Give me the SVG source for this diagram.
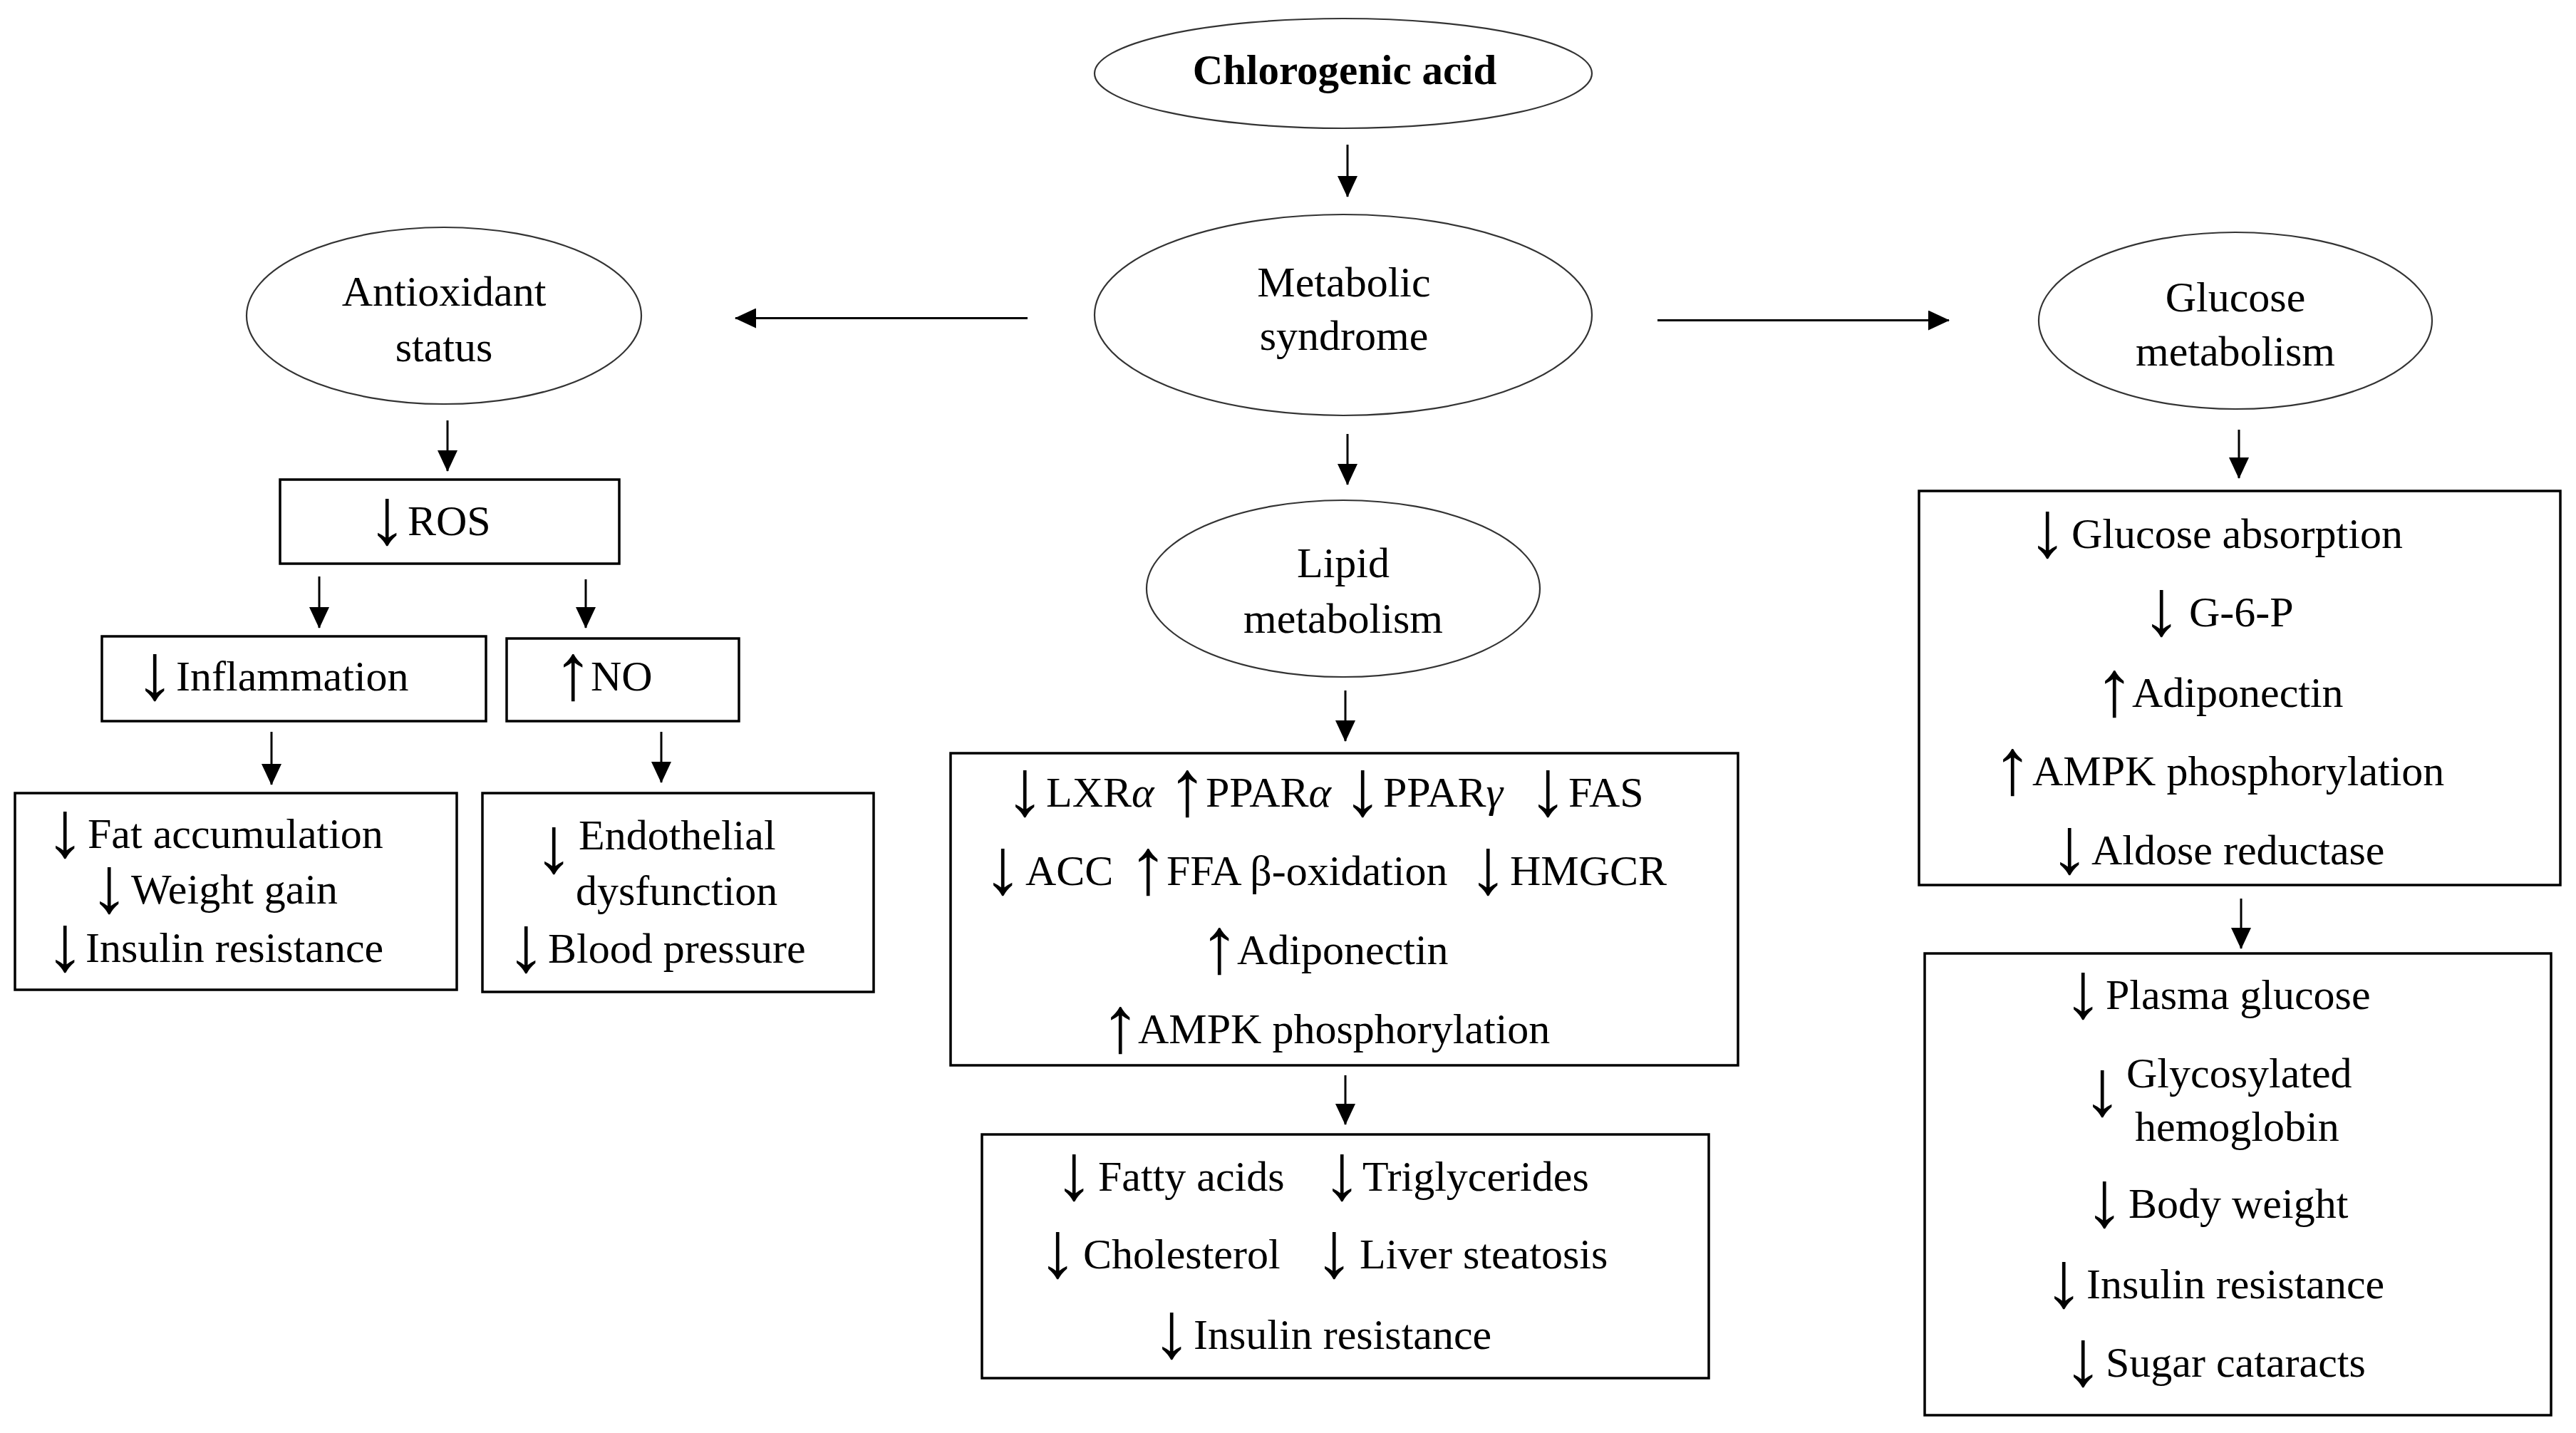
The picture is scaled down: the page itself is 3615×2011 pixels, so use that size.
<svg xmlns="http://www.w3.org/2000/svg" width="3615" height="2011" viewBox="0 0 3615 2011">
<style>
text{font-family:"Liberation Serif","Times New Roman",serif;font-size:60px;fill:#000}
.c{text-anchor:middle}
.b{font-weight:bold;font-size:59px}
.ar{text-anchor:middle;font-size:112px}
.g{font-style:italic}
.el{fill:#fff;stroke:#333;stroke-width:2.2}
.bx{fill:#fff;stroke:#000;stroke-width:3.5}
.cn{stroke:#000;stroke-width:3;fill:none;marker-end:url(#ah)}
</style>
<defs>
<marker id="ah" markerUnits="userSpaceOnUse" markerWidth="30" markerHeight="28" refX="29" refY="14" orient="auto">
<path d="M0,0 L30,14 L0,28 z" fill="#000"/>
</marker>
</defs>
<rect width="3615" height="2011" fill="#fff"/>
<g id="connectors">
<line class="cn" x1="1891" y1="203" x2="1891" y2="276"/>
<line class="cn" x1="1442" y1="446.5" x2="1032" y2="446.5"/>
<line class="cn" x1="2326" y1="449.5" x2="2735" y2="449.5"/>
<line class="cn" x1="1891" y1="609" x2="1891" y2="680"/>
<line class="cn" x1="628" y1="590" x2="628" y2="661"/>
<line class="cn" x1="448" y1="809" x2="448" y2="881"/>
<line class="cn" x1="822" y1="813" x2="822" y2="881"/>
<line class="cn" x1="381" y1="1027" x2="381" y2="1101"/>
<line class="cn" x1="928" y1="1027" x2="928" y2="1098"/>
<line class="cn" x1="1888" y1="969" x2="1888" y2="1040"/>
<line class="cn" x1="1888" y1="1509" x2="1888" y2="1578"/>
<line class="cn" x1="3142" y1="603" x2="3142" y2="671"/>
<line class="cn" x1="3145" y1="1261" x2="3145" y2="1331"/>
</g>
<g id="chlorogenic">
<ellipse class="el" cx="1885" cy="103" rx="349" ry="77"/>
<text class="c b" x="1887" y="118">Chlorogenic acid</text>
</g>
<g id="metabolic">
<ellipse class="el" cx="1885" cy="442" rx="349" ry="141"/>
<text class="c" x="1886" y="416">Metabolic</text>
<text class="c" x="1886" y="491">syndrome</text>
</g>
<g id="antioxidant">
<ellipse class="el" cx="623" cy="443" rx="277" ry="124"/>
<text class="c" x="623" y="429">Antioxidant</text>
<text class="c" x="623" y="507">status</text>
</g>
<g id="lipid">
<ellipse class="el" cx="1885" cy="826" rx="276" ry="124"/>
<text class="c" x="1885" y="810">Lipid</text>
<text class="c" x="1885" y="888">metabolism</text>
</g>
<g id="glucose">
<ellipse class="el" cx="3137" cy="450" rx="276" ry="124"/>
<text class="c" x="3137" y="437">Glucose</text>
<text class="c" x="3137" y="513">metabolism</text>
</g>
<g id="ros">
<rect class="bx" x="393" y="673" width="476" height="118"/>
<text class="ar" x="543" y="763">↓</text><text x="572" y="751">ROS</text>
</g>
<g id="inflammation">
<rect class="bx" x="143" y="893" width="539" height="119"/>
<text class="ar" x="217" y="981">↓</text><text x="247" y="969">Inflammation</text>
</g>
<g id="no">
<rect class="bx" x="711" y="896" width="326" height="116"/>
<text class="ar" x="804" y="981">↑</text><text x="829" y="969">NO</text>
</g>
<g id="fat">
<rect class="bx" x="21" y="1113" width="620" height="276"/>
<text class="ar" x="91" y="1202">↓</text><text x="123" y="1190">Fat accumulation</text>
<text class="ar" x="153" y="1280">↓</text><text x="184" y="1268">Weight gain</text>
<text class="ar" x="91" y="1362">↓</text><text x="120" y="1350">Insulin resistance</text>
</g>
<g id="endothelial">
<rect class="bx" x="677" y="1113" width="549" height="279"/>
<text class="ar" x="777" y="1224">↓</text>
<text x="812" y="1192">Endothelial</text>
<text x="808" y="1270">dysfunction</text>
<text class="ar" x="738" y="1363">↓</text><text x="769" y="1351">Blood pressure</text>
</g>
<g id="lipid-effects">
<rect class="bx" x="1334" y="1057" width="1105" height="438"/>
<text class="ar" x="1438" y="1144">↓</text><text x="1468" y="1132">LXR<tspan class="g">α</tspan></text>
<text class="ar" x="1666" y="1144">↑</text><text x="1692" y="1132">PPAR<tspan class="g">α</tspan></text>
<text class="ar" x="1912" y="1144">↓</text><text x="1941" y="1132">PPAR<tspan class="g">γ</tspan></text>
<text class="ar" x="2172" y="1144">↓</text><text x="2201" y="1132">FAS</text>
<text class="ar" x="1407" y="1254">↓</text><text x="1439" y="1242">ACC</text>
<text class="ar" x="1611" y="1254">↑</text><text x="1637" y="1242">FFA β-oxidation</text>
<text class="ar" x="2088" y="1254">↓</text><text x="2119" y="1242">HMGCR</text>
<text class="ar" x="1711" y="1365">↑</text><text x="1736" y="1353">Adiponectin</text>
<text class="ar" x="1572" y="1476">↑</text><text x="1597" y="1464">AMPK phosphorylation</text>
</g>
<g id="lipid-outcomes">
<rect class="bx" x="1378" y="1592" width="1020" height="342"/>
<text class="ar" x="1507" y="1683">↓</text><text x="1541" y="1671">Fatty acids</text>
<text class="ar" x="1883" y="1683">↓</text><text x="1912" y="1671">Triglycerides</text>
<text class="ar" x="1484" y="1792">↓</text><text x="1520" y="1780">Cholesterol</text>
<text class="ar" x="1872" y="1792">↓</text><text x="1908" y="1780">Liver steatosis</text>
<text class="ar" x="1644" y="1905">↓</text><text x="1675" y="1893">Insulin resistance</text>
</g>
<g id="glucose-effects">
<rect class="bx" x="2693" y="689" width="900" height="553"/>
<text class="ar" x="2873" y="781">↓</text><text x="2907" y="769">Glucose absorption</text>
<text class="ar" x="3033" y="891">↓</text><text x="3072" y="879">G-6-P</text>
<text class="ar" x="2967" y="1004">↑</text><text x="2992" y="992">Adiponectin</text>
<text class="ar" x="2824" y="1114">↑</text><text x="2852" y="1102">AMPK phosphorylation</text>
<text class="ar" x="2904" y="1225">↓</text><text x="2935" y="1213">Aldose reductase</text>
</g>
<g id="glucose-outcomes">
<rect class="bx" x="2701" y="1338" width="879" height="648"/>
<text class="ar" x="2923" y="1428">↓</text><text x="2955" y="1416">Plasma glucose</text>
<text class="ar" x="2950" y="1565">↓</text>
<text x="2984" y="1526">Glycosylated</text>
<text x="2996" y="1601">hemoglobin</text>
<text class="ar" x="2953" y="1721">↓</text><text x="2987" y="1709">Body weight</text>
<text class="ar" x="2896" y="1834">↓</text><text x="2928" y="1822">Insulin resistance</text>
<text class="ar" x="2923" y="1944">↓</text><text x="2955" y="1932">Sugar cataracts</text>
</g>
</svg>
